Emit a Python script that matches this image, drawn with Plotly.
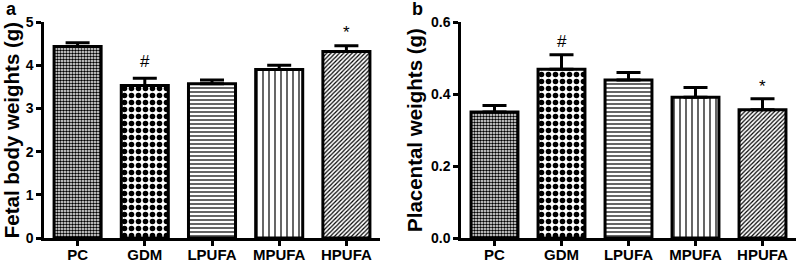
import plotly.graph_objects as go

categories = ["PC", "GDM", "LPUFA", "MPUFA", "HPUFA"]
fetal_weights = [4.43, 3.53, 3.57, 3.90, 4.32]
fetal_err = [0.09, 0.17, 0.09, 0.10, 0.13]
placental_weights = [0.350, 0.469, 0.439, 0.391, 0.356]
placental_err = [0.018, 0.040, 0.021, 0.027, 0.031]
fetal_marks = [("GDM", 4.08, "#"), ("HPUFA", 4.76, "*")]
placental_marks = [("GDM", 0.546, "#"), ("HPUFA", 0.422, "*")]

shapes = [".", ".", "-", "|", "/"]
sizes = [3, 7, 4, 6, 3]
solid = [0.55, 0.5, 0.3, 0.2, 0.4]

FONT = "Liberation Sans, Arial, sans-serif"
W, H = 797, 263
T, B = 22, 22
PH = H - T - B

fig = go.Figure()
for vals, errs, xa, ya in [(fetal_weights, fetal_err, "x", "y"),
                           (placental_weights, placental_err, "x2", "y2")]:
    fig.add_trace(go.Bar(
        x=categories, y=vals, xaxis=xa, yaxis=ya, width=0.7,
        marker=dict(color="white", line=dict(color="black", width=3),
                    pattern=dict(shape=shapes, size=sizes, solidity=solid,
                                 fgcolor="black", bgcolor="white", fillmode="replace")),
        error_y=dict(type="data", symmetric=False, array=errs,
                     arrayminus=[0] * len(errs), color="black", thickness=3, width=12),
        showlegend=False, hoverinfo="skip",
    ))

annotations = []
for cat, yv, txt in fetal_marks:
    annotations.append(dict(x=cat, y=yv, xref="x", yref="y", text=txt, showarrow=False,
                            font=dict(family=FONT, size=17, color="black")))
for cat, yv, txt in placental_marks:
    annotations.append(dict(x=cat, y=yv, xref="x2", yref="y2", text=txt, showarrow=False,
                            font=dict(family=FONT, size=17, color="black")))
for lbl, px in [("a", 4), ("b", 410)]:
    annotations.append(dict(x=px / (W - 1), y=(H - B - 9) / PH, xref="paper", yref="paper",
                            text="<b>%s</b>" % lbl, showarrow=False, xanchor="left",
                            yanchor="middle", font=dict(family=FONT, size=18, color="black")))

def axis_common(fs):
    return dict(showline=True, linecolor="black", linewidth=2.5, ticks="outside",
                tickwidth=2.5, ticklen=5, tickcolor="black", showgrid=False, zeroline=False,
                tickfont=dict(family=FONT, size=fs, color="black", weight=700))

fig.update_layout(
    width=W, height=H,
    margin=dict(l=0, r=1, t=T, b=B),
    paper_bgcolor="white", plot_bgcolor="white",
    annotations=annotations,
    xaxis=dict(domain=[44 / (W - 1), 380 / (W - 1)], anchor="y", range=[-0.5, 4.5],
               ticklabelstandoff=-4, **axis_common(15)),
    yaxis=dict(domain=[0, 1], anchor="x", range=[0, 5], tickvals=[0, 1, 2, 3, 4, 5],
               title=dict(text="<b>Fetal body weights (g)</b>", standoff=3,
                          font=dict(family=FONT, size=20.5, color="black")),
               **axis_common(14)),
    xaxis2=dict(domain=[461 / (W - 1), 1], anchor="y2", range=[-0.5, 4.5],
                ticklabelstandoff=-4, **axis_common(15)),
    yaxis2=dict(domain=[0, 1], anchor="x2", range=[0, 0.6], tickvals=[0, 0.2, 0.4, 0.6],
                tickformat=".1f",
                title=dict(text="<b>Placental weights (g)</b>", standoff=3,
                           font=dict(family=FONT, size=20.5, color="black")),
                **axis_common(14)),
)

fig.write_html("out.html", config={"displayModeBar": False},
               post_script="document.body.style.margin='0';document.body.style.overflow='hidden';")
